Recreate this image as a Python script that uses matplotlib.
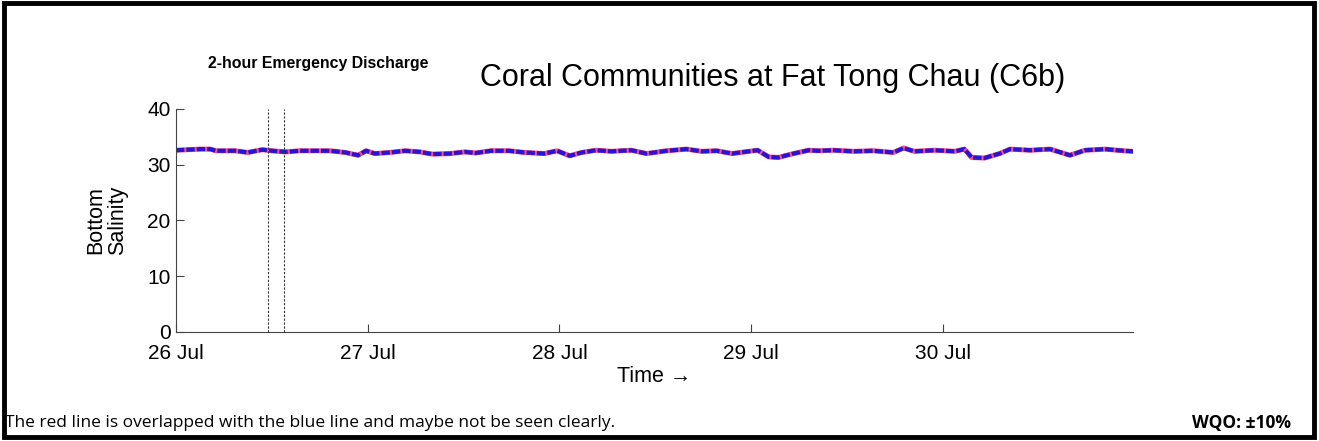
import matplotlib.pyplot as plt
from matplotlib.patches import Rectangle

# hours since 26 Jul 00:00 and bottom salinity
hours = [0.0, 3.0, 4.3, 5.0, 7.4, 9.0, 10.8, 12.0, 13.7, 15.5, 19.3, 21.2,
         22.8, 23.8, 24.9, 26.8, 28.7, 30.5, 32.1, 34.3, 36.2, 37.5, 39.4,
         41.7, 43.6, 46.1, 47.7, 49.3, 50.8, 52.6, 54.5, 57.0, 58.9, 61.4,
         63.9, 65.8, 67.7, 69.6, 72.8, 74.2, 75.4, 77.3, 79.2, 80.4, 82.3,
         84.8, 87.3, 89.8, 91.1, 92.4, 95.0, 97.5, 98.7, 99.6, 101.2, 103.1,
         104.4, 106.9, 109.4, 111.9, 113.8, 116.3, 118.6, 119.8]
salinity = [32.6, 32.8, 32.8, 32.5, 32.5, 32.2, 32.7, 32.5, 32.3, 32.5,
            32.5, 32.2, 31.7, 32.5, 32.0, 32.2, 32.5, 32.3, 31.9, 32.0,
            32.3, 32.1, 32.5, 32.5, 32.2, 32.0, 32.5, 31.6, 32.2, 32.6,
            32.4, 32.6, 32.0, 32.5, 32.8, 32.4, 32.5, 32.0, 32.6, 31.4,
            31.3, 32.0, 32.6, 32.5, 32.6, 32.4, 32.5, 32.2, 33.0, 32.4,
            32.6, 32.4, 32.8, 31.3, 31.2, 32.0, 32.8, 32.6, 32.8, 31.7,
            32.6, 32.8, 32.5, 32.4]
discharge = [11.5, 13.5]
day_ticks = [0, 24, 48, 72, 96]
day_labels = ["26 Jul", "27 Jul", "28 Jul", "29 Jul", "30 Jul"]

plt.rcParams['font.family'] = ['Liberation Sans', 'DejaVu Sans']

fig = plt.figure(figsize=(13.19, 4.41), dpi=100)
fig.patches.append(Rectangle((0.003, 0.008), 0.993, 0.985, transform=fig.transFigure,
                             fill=False, edgecolor='black', linewidth=3.5))

ax = fig.add_axes([0.1334, 0.2472, 0.7256, 0.5057])
ax.plot(hours, salinity, color='#f0508a', linewidth=3.6, solid_capstyle='round')
ax.plot(hours, salinity, color='#2a14d0', linewidth=3.0, linestyle=(0, (2.0, 0.5)))
for d in discharge:
    ax.axvline(d, ymin=0, ymax=1, color='#333333', linestyle=(0, (2, 1.5)), linewidth=0.8)

ax.set_xlim(0, 119.8)
ax.set_ylim(0, 40)
ax.set_yticks([0, 10, 20, 30, 40])
ax.set_xticks(day_ticks)
ax.set_xticklabels(day_labels)
for s in ['top', 'right']:
    ax.spines[s].set_visible(False)
for s in ['left', 'bottom']:
    ax.spines[s].set_color('#444444')
ax.tick_params(direction='in', length=6, color='#444444', labelsize=15)
ax.tick_params(axis='y', pad=4)
ax.tick_params(axis='x', pad=9)
ax.set_ylabel("Bottom\nSalinity", fontsize=15.5, labelpad=14, linespacing=1.0)
ax.set_xlabel("Time \u2192", fontsize=15.5, labelpad=2)

fig.text(0.586, 0.822, "Coral Communities at Fat Tong Chau (C6b)", fontsize=22,
         ha='center', va='center')
fig.text(0.241, 0.857, "2-hour Emergency Discharge", fontsize=11.4, fontweight='bold',
         ha='center', va='center')
fig.text(0.004, 0.04, "The red line is overlapped with the blue line and maybe not be seen clearly.",
         fontsize=12.5, ha='left', va='center', family=['Open Sans', 'DejaVu Sans'])
fig.text(0.979, 0.04, "WQO: \u00b110%", fontsize=12.5, fontweight='bold', ha='right', va='center',
         family=['Open Sans', 'DejaVu Sans'])

fig.savefig("out.png", dpi=100)
